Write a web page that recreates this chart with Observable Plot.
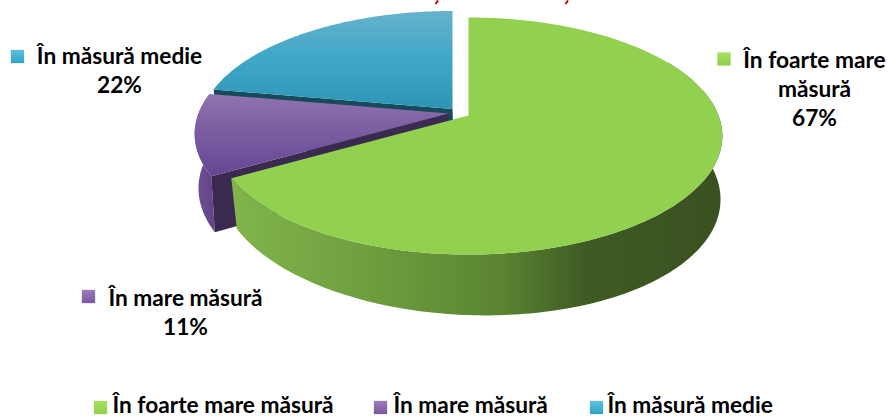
<!DOCTYPE html>
<html><head><meta charset="utf-8">
<script src="https://cdn.jsdelivr.net/npm/d3@7"></script>
<script src="https://cdn.jsdelivr.net/npm/@observablehq/plot@0.6"></script>
<style>
html,body{margin:0;padding:0;background:#fff;overflow:hidden}
g[aria-label="shadow"]{filter:blur(1.6px)}
g[aria-label="wide"]{word-spacing:7px}
</style></head><body>
<div id="chart"></div>
<script>
const categories = ["În foarte mare măsură", "În mare măsură", "În măsură medie"];
const shares = [66.7, 11.1, 22.2];
const legendX = [100, 380, 596];
const legendTextX = [112, 393, 607];
const calloutLines = [
  ["În foarte mare", "măsură"],
  ["În mare măsură"],
  ["În măsură medie"]
];
const calloutX = [814, 185, 119];
const calloutY = [60, 298, 56];
const swatchX = [723.5, 88, 17];
const swatchY = [58.5, 296, 56];
const titleTailX = [436, 566];

// perspective pie: a circle seen through a projective tilt
const K = 0.173, A = 250, B = 115;
function rim(angleDeg, apex, a = A, b = B) {
  const t = angleDeg * Math.PI / 180, u = Math.sin(t), v = Math.cos(t), w = 1 + K * v;
  return {x: apex.x + a * u / w, y: apex.y - b * v / w};
}
function arc(from, to, apex, a, b) {
  const n = Math.max(2, Math.ceil(Math.abs(to - from)));
  return d3.range(n + 1).map(i => rim(from + (to - from) * i / n, apex, a, b));
}
const total = d3.sum(shares);
const cum = d3.cumsum(shares).map(c => c / total * 360);
const ang = [[0, cum[0]], [cum[0], cum[1]], [cum[1], 360]];
const apexes = [{x: 468, y: 115}, {x: 448, y: 113}, {x: 452, y: 108.5}];
const topFace = i => [apexes[i], ...arc(ang[i][0], ang[i][1], apexes[i])];
// lower rim of a wall; skew tilts it a little, as the reference's perspective does
const lowerRim = (from, to, apex, dx, dy, skew = 0, scale = 0.985) =>
  arc(from, to, {x: apex.x + dx, y: apex.y + dy}, A * scale, B * 1.04)
    .map(p => ({x: p.x, y: p.y + skew * (p.x - apex.x)}));
const wallArc = (from, to, apex, dx, dy, skew) =>
  [...arc(from, to, apex), ...lowerRim(to, from, apex, dx, dy, skew)];
const cutFace = (angle, apex, dx, dy) => {
  const rb = lowerRim(angle, angle, apex, dx, dy)[0];
  return [apex, rim(angle, apex), rb, {x: apex.x + dx, y: apex.y + dy}];
};
const grad = (id, x2, y2, stops) => `<linearGradient id="${id}" x1="0" y1="0" x2="${x2}" y2="${y2}">` +
  stops.map(([o, c]) => `<stop offset="${o}" stop-color="${c}"/>`).join("") + `</linearGradient>`;
const defs = () => {
  const g = document.createElementNS("http://www.w3.org/2000/svg", "g");
  g.innerHTML = "<defs>" +
    grad("gBlue", 0, 1, [[0, "#66B2CC"], [0.45, "#42A8C8"], [1, "#2C95B6"]]) +
    grad("gPurple", 0, 1, [[0, "#8F74AF"], [0.5, "#7A5BA0"], [1, "#634693"]]) +
    grad("gGreenWall", 1, 0, [[0, "#82B54D"], [0.3, "#6D9C3D"], [0.55, "#5A8432"], [0.72, "#3F5B23"], [1, "#3A5020"]]) +
    grad("gPurpleWall", 1, 0, [[0, "#745397"], [1, "#5F4288"]]) +
    grad("sGreen", 0, 1, [[0, "#A6E05C"], [1, "#92D050"]]) +
    grad("sPurple", 0, 1, [[0, "#9A7DBB"], [1, "#7A56A0"]]) +
    grad("sBlue", 0, 1, [[0, "#60C0DC"], [1, "#31A3C4"]]) +
    "</defs>";
  return g;
};
const poly = (pts, fill, extra = {}) => Plot.line(pts, {x: "x", y: "y", fill, stroke: "none", ...extra});

const labelFont = {fontWeight: "bold", fontSize: 22.7, fill: "#000"};
const calloutRows = [];
calloutLines.forEach((lines, i) => {
  lines.forEach((t, j) => calloutRows.push({t, x: calloutX[i], y: calloutY[i] + j * 29}));
  calloutRows.push({t: Math.round(shares[i]) + "%", x: calloutX[i], y: calloutY[i] + lines.length * 29});
});
const [gi, pi, bi] = [0, 1, 2];
const gapShadow = [
  [{x: apexes[bi].x + 1.5, y: 56}, {x: apexes[bi].x + 2.5, y: 116}],
  [{x: apexes[gi].x - 2, y: 62}, {x: apexes[gi].x - 1.5, y: 116}]
];
const SKEW = 0.03;
const plot = Plot.plot({
  width: 889, height: 417,
  margin: 0,
  x: {domain: [0, 889], range: [0, 889], axis: null},
  y: {domain: [0, 417], range: [0, 417], axis: null},
  style: {fontFamily: "Lato", background: "#fff"},
  marks: [
    defs,
    // soft shadows
    poly(lowerRim(50, 240, apexes[gi], 1, 58.5, SKEW, 0.997), "#333", {ariaLabel: "shadow"}),
    poly(wallArc(ang[pi][0], ang[pi][1], {x: apexes[pi].x - 3, y: apexes[pi].y + 2}, 0, 53.5), "#555", {ariaLabel: "shadow"}),
    ...gapShadow.map(s => Plot.line(s, {x: "x", y: "y", stroke: "#555", strokeWidth: 4, ariaLabel: "shadow"})),
    // blue slice
    poly(cutFace(ang[bi][0], apexes[bi], 2, 55), "#174B5C"),
    poly(topFace(bi), "url(#gBlue)"),
    // purple slice
    poly(wallArc(ang[pi][0], ang[pi][1], apexes[pi], 0, 53.5), "url(#gPurpleWall)"),
    poly(cutFace(ang[pi][0], apexes[pi], 0, 53.5), "#3B2A50"),
    poly(topFace(pi), "url(#gPurple)"),
    // green slice
    poly(wallArc(60, ang[gi][1], apexes[gi], 2, 55, SKEW), "url(#gGreenWall)"),
    poly(topFace(gi), "#92D050"),
    // tails of the title, which the reference cuts off at its top edge
    Plot.link(titleTailX, {x1: d => d + 1.5, y1: () => 0, x2: d => d - 1, y2: () => 3.5, stroke: "#C00000", strokeWidth: 2}),
    // callouts
    Plot.dot(categories, {x: (d, i) => swatchX[i], y: (d, i) => swatchY[i], symbol: "square", r: 7.5, stroke: "none", fill: (d, i) => ["url(#sGreen)", "url(#sPurple)", "url(#sBlue)"][i]}),
    Plot.text(calloutRows.slice(0, 1), {x: "x", y: "y", text: "t", ariaLabel: "wide", ...labelFont}),
    Plot.text(calloutRows.slice(1), {x: "x", y: "y", text: "t", ...labelFont}),
    // legend
    Plot.dot(categories, {x: (d, i) => legendX[i], y: () => 407, symbol: "square", r: 7.5, stroke: "none", fill: (d, i) => ["url(#sGreen)", "url(#sPurple)", "url(#sBlue)"][i]}),
    Plot.text(categories, {x: (d, i) => legendTextX[i], y: () => 405, text: d => d, textAnchor: "start", ...labelFont})
  ]
});
document.getElementById("chart").append(plot);
</script>
</body></html>
